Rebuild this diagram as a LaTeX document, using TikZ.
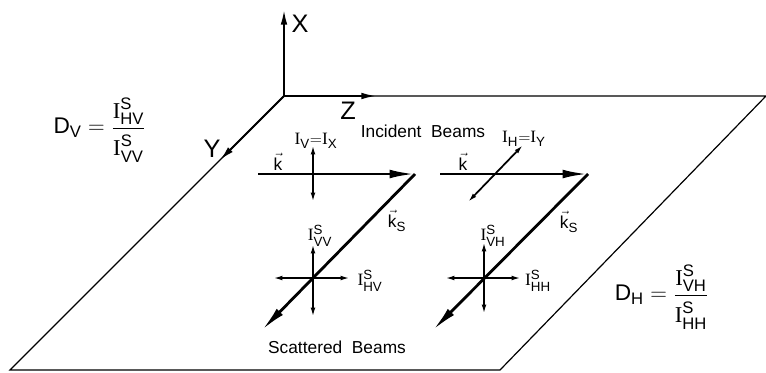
\documentclass[tikz,border=0pt]{standalone}
\usepackage{amsmath}
\usepackage{fontspec}
\setmainfont{Liberation Sans}
\newfontfamily\serifI{Liberation Serif}
\usetikzlibrary{arrows.meta}
\DeclareMathSizes{13}{13}{10}{8}
\DeclareMathSizes{17}{17}{12.5}{10}
\newcommand{\Isym}{\text{\serifI I}}
\newcommand{\Iscat}[1]{\Isym^{\text{S}}_{\text{#1}}}
\newcommand{\dratio}[3]{\text{D}_{\text{#1}}\;{=}\;\dfrac{\rule[-4pt]{0pt}{16pt}\Iscat{#2}}{\rule{0pt}{18pt}\Iscat{#3}}}
\tikzset{
  edge/.style={draw=black, line width=0.9pt},
  axis/.style={draw=black, line width=1.4pt, -{Latex[length=11pt,width=5pt]}},
  beam/.style={draw=black, line width=2.1pt, -{Latex[length=19pt,width=6.5pt]}},
  pol/.style={draw=black, line width=1.3pt, {Latex[length=7pt,width=3.5pt]}-{Latex[length=7pt,width=3.5pt]}},
  lbl/.style={inner sep=0pt, font=\fontsize{13}{15}\selectfont},
  axlbl/.style={inner sep=0pt, font=\fontsize{19}{21}\selectfont},
  ratio/.style={inner sep=0pt, anchor=east, font=\fontsize{17}{20}\selectfont},
  ilbl/.style={inner sep=0pt, font=\fontsize{13}{15}\selectfont},
}
\begin{document}
\begin{tikzpicture}[x=0.75pt, y=-0.75pt]
  \useasboundingbox (0,0) rectangle (766,372);
  % the scattering plane
  \coordinate (O) at (284,96);
  \coordinate (TR) at (766,96);
  \coordinate (BR) at (500,370);
  \coordinate (BL) at (10,370);
  \draw[edge] (TR) -- (O) -- (BL) -- (BR) -- (TR);

  \coordinate (Xtip) at (284,10);
  \coordinate (Ztip) at (376,96);
  \coordinate (Ytip) at (220,160);
  \draw[axis] (O) -- (Xtip);
  \draw[axis] (O) -- (Ztip);
  \draw[axis] (O) -- (Ytip);
  \node[axlbl] (X) at (300,24) {X};
  \node[axlbl] (Z) at (348,111) {Z};
  \node[axlbl] (Y) at (212,149) {Y};

  % vertical incident beam
  \coordinate (kV0) at (258,174); \coordinate (kV1) at (415,174); \coordinate (sV1) at (262,330);
  \draw[beam] (kV0) -- (kV1);
  \draw[beam] (kV1) -- (sV1);
  \coordinate (pV0) at (313,145); \coordinate (pV1) at (313,202);
  \draw[pol] (pV0) -- (pV1);
  \coordinate (cVt) at (313,244); \coordinate (cVb) at (313,317);
  \coordinate (cVl) at (273,278); \coordinate (cVr) at (350,278);
  \draw[pol] (cVt) -- (cVb);
  \draw[pol] (cVl) -- (cVr);

  % horizontal incident beam
  \coordinate (kH0) at (440,174); \coordinate (kH1) at (588,174); \coordinate (sH1) at (433,330);
  \draw[beam] (kH0) -- (kH1);
  \draw[beam] (kH1) -- (sH1);
  \coordinate (pH0) at (468,202); \coordinate (pH1) at (523,145);
  \draw[pol] (pH0) -- (pH1);
  \coordinate (cHt) at (484,242); \coordinate (cHb) at (484,314);
  \coordinate (cHl) at (445,278); \coordinate (cHr) at (521,278);
  \draw[pol] (cHt) -- (cHb);
  \draw[pol] (cHl) -- (cHr);

  \node[lbl] (inc) at (423,131) {Incident\ \ Beams};
  \node[lbl] (sca) at (337,347) {Scattered\ \ Beams};
  \node[ilbl] (IVX) at (316,141) {$\Isym_{\text{V}}{=}\Isym_{\text{X}}$};
  \node[ilbl] (IHY) at (524,139) {$\Isym_{\text{H}}{=}\Isym_{\text{Y}}$};
  \node[ilbl] (kV) at (278,162) {$\vec{\text{k}}$};
  \node[ilbl] (kH) at (463,162) {$\vec{\text{k}}$};
  \node[ilbl] (ksV) at (397,221) {$\vec{\text{k}}_{\text{S}}$};
  \node[ilbl] (ksH) at (569,222) {$\vec{\text{k}}_{\text{S}}$};
  \node[ilbl] (IVV) at (320,236) {$\Iscat{VV}$};
  \node[ilbl] (IHV) at (370,281) {$\Iscat{HV}$};
  \node[ilbl] (IVH) at (493,236) {$\Iscat{VH}$};
  \node[ilbl] (IHH) at (538,281) {$\Iscat{HH}$};

  \node[ratio] (DV) at (146,130) {$\dratio{V}{HV}{VV}$};
  \node[ratio] (DH) at (709,297) {$\dratio{H}{VH}{HH}$};
\end{tikzpicture}
\end{document}
